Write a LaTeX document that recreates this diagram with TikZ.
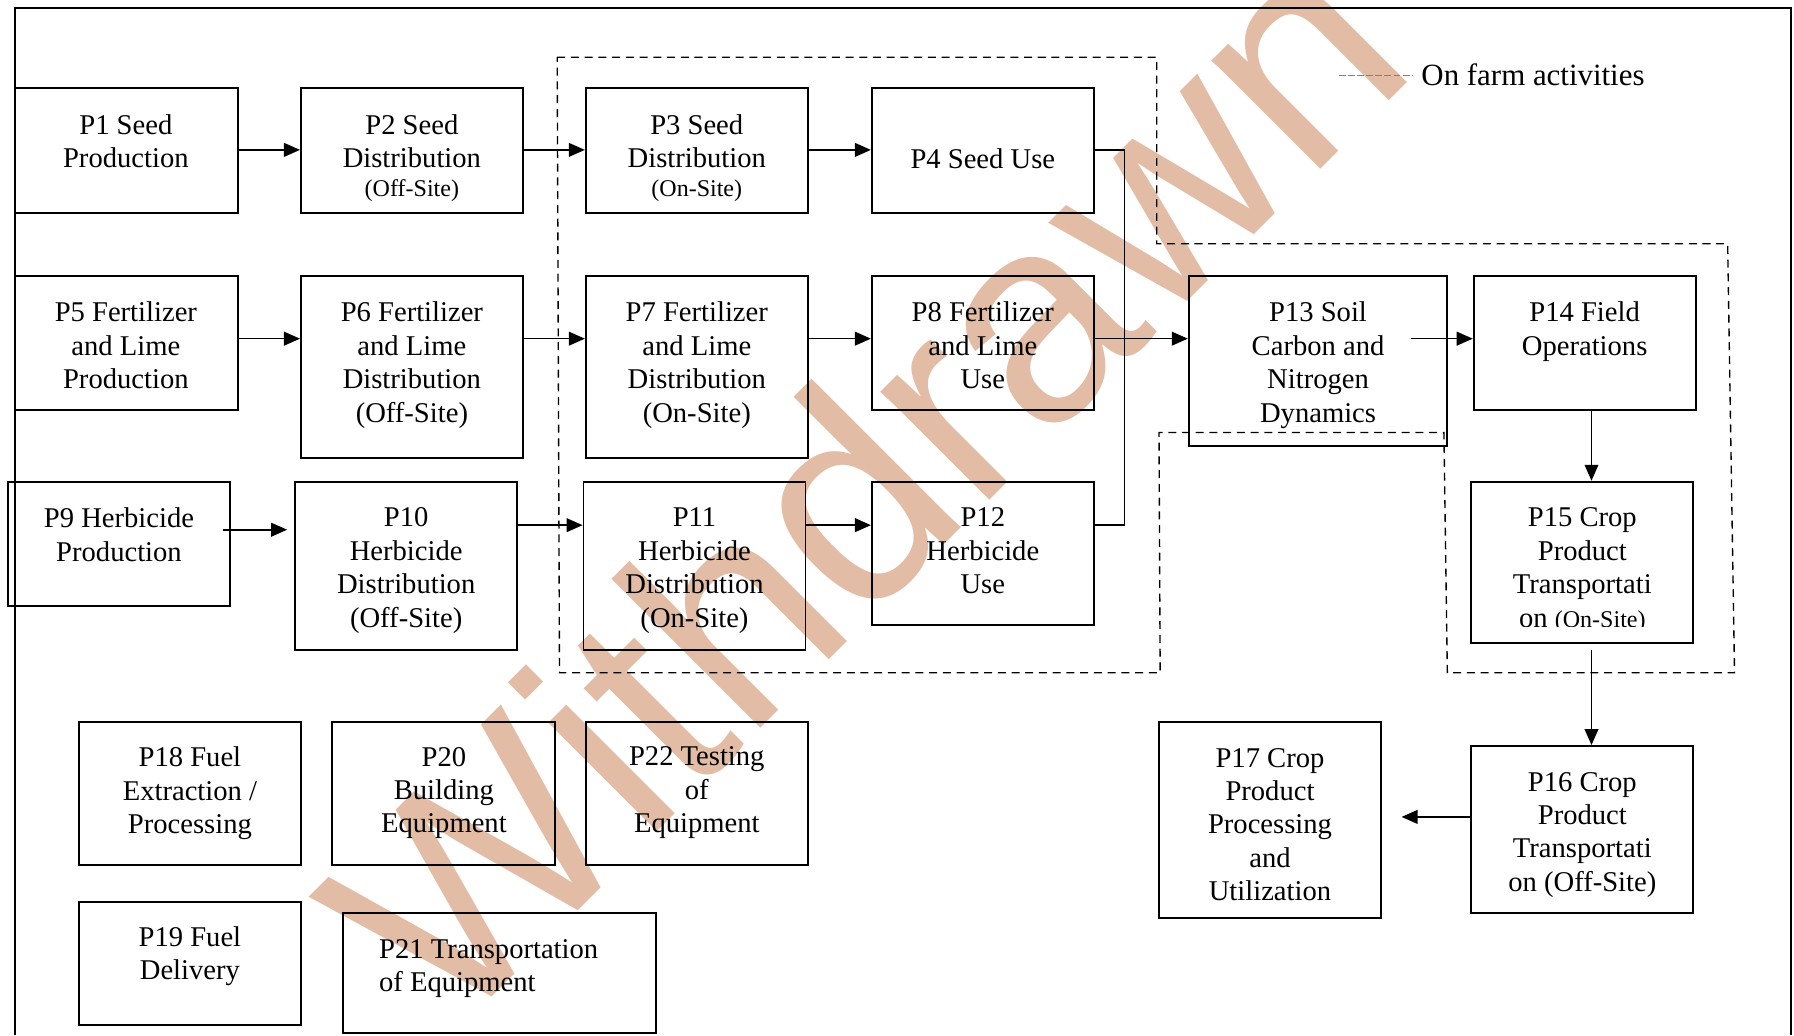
\documentclass[tikz,border=0pt]{standalone}
\usepackage{fontspec}
\setmainfont{Liberation Serif}
\newfontfamily\wmfont{Liberation Sans}
\usetikzlibrary{arrows.meta,fit}
\definecolor{wm}{RGB}{226,188,165}
\tikzset{
 boxst/.style={draw, line width=0.8pt, inner sep=0pt},
 txt/.style={align=center, inner sep=0pt, anchor=north, font=\fontsize{12.5}{14.6}\selectfont},
 arr/.style={line width=0.7pt, -{Triangle[length=7pt,width=6pt]}},
 conn/.style={line width=0.7pt},
 region/.style={dash pattern=on 3.5pt off 2.5pt, line width=0.6pt},
}
\newcommand{\sm}[1]{{\fontsize{10.5}{12}\selectfont #1}}
\begin{document}
\begin{tikzpicture}[x=0.5pt,y=-0.5pt]
\useasboundingbox (0,0) rectangle (1568,905);
% watermark
\node[rotate=45, anchor=base west, text=wm, inner sep=0pt, font=\wmfont\fontsize{127}{127}\selectfont] (wmark) at (393,909) {Withdrawn};
% frame
\draw[line width=0.8pt] (13,905) -- (13,7) -- (1565,7) -- (1565,905);
% dashed on-farm region
\draw[region] (487,50) -- (1011,50) -- (1011,213) -- (1510,213) -- (1516,588) -- (1265,588) -- (1262,378) -- (1013,378) -- (1014,588) -- (489,588) -- cycle;
% legend
\coordinate (l1) at (1170,66);
\coordinate (l2) at (1235,66);
\draw[gray, dash pattern=on 3pt off 1pt, line width=0.7pt] (l1) -- (l2);
\node[anchor=west, inner sep=0pt, font=\fontsize{13.5}{15}\selectfont] (leg) at (1242,65) {On farm activities};
% boxes
\node[boxst, fit={(13,77) (208,186)}] (P1) {};
\node[boxst, fit={(263,77) (457,186)}] (P2) {};
\node[boxst, fit={(512,77) (706,186)}] (P3) {};
\node[boxst, fit={(762,77) (956,186)}] (P4) {};
\node[boxst, fit={(13,241) (208,358)}] (P5) {};
\node[boxst, fit={(263,241) (457,400)}] (P6) {};
\node[boxst, fit={(512,241) (706,400)}] (P7) {};
\node[boxst, fit={(762,241) (956,358)}] (P8) {};
\node[boxst, fit={(1039,241) (1265,390)}] (P13) {};
\node[boxst, fit={(1288,241) (1482,358)}] (P14) {};
\node[boxst, fit={(7,421) (201,530)}] (P9) {};
\node[boxst, fit={(258,421) (452,568)}] (P10) {};
\node[boxst, fit={(510,421) (704,568)}] (P11) {};
\node[boxst, fit={(762,421) (956,546)}] (P12) {};
\node[boxst, fit={(1286,421) (1480,562)}] (P15) {};
\node[boxst, fit={(69,631) (263,756)}] (P18) {};
\node[boxst, fit={(290,631) (485,756)}] (P20) {};
\node[boxst, fit={(512,631) (706,756)}] (P22) {};
\node[boxst, fit={(1013,631) (1207,802)}] (P17) {};
\node[boxst, fit={(1286,652) (1480,798)}] (P16) {};
\node[boxst, fit={(69,788) (263,896)}] (P19) {};
\node[boxst, fit={(300,798) (573,903)}] (P21) {};
% texts
\node[txt] (T1) at (110,99.5) {P1 Seed\\Production};
\node[txt] (T2) at (360,99.5) {P2 Seed\\Distribution\\[-2pt]\sm{(Off-Site)}};
\node[txt] (T3) at (609,99.5) {P3 Seed\\Distribution\\[-2pt]\sm{(On-Site)}};
\node[txt] (T4) at (859,129.5) {P4 Seed Use};
\node[txt] (T5) at (110,263.5) {P5 Fertilizer\\and Lime\\Production};
\node[txt] (T6) at (360,263.5) {P6 Fertilizer\\and Lime\\Distribution\\(Off-Site)};
\node[txt] (T7) at (609,263.5) {P7 Fertilizer\\and Lime\\Distribution\\(On-Site)};
\node[txt] (T8) at (859,263.5) {P8 Fertilizer\\and Lime\\Use};
\node[txt] (T13) at (1152,263.5) {P13 Soil\\Carbon and\\Nitrogen\\Dynamics};
\node[txt] (T14) at (1385,263.5) {P14 Field\\Operations};
\node[txt] (T9) at (104,443.5) {P9 Herbicide\\Production};
\node[txt] (T10) at (355,443.5) {P10\\Herbicide\\Distribution\\(Off-Site)};
\node[txt] (T11) at (607,443.5) {P11\\Herbicide\\Distribution\\(On-Site)};
\node[txt] (T12) at (859,443.5) {P12\\Herbicide\\Use};
\begin{scope}
\clip (1286,421) rectangle (1480,548);
\node[txt] (T15) at (1383,443.5) {P15 Crop\\Product\\Transportati\\on \sm{(On-Site)}};
\end{scope}
\node[txt] (T18) at (166,652.5) {P18 Fuel\\Extraction /\\Processing};
\node[txt] (T20) at (388,652.5) {P20\\Building\\Equipment};
\node[txt] (T22) at (609,652.5) {P22 Testing\\of\\Equipment};
\node[txt] (T17) at (1110,653.5) {P17 Crop\\Product\\Processing\\and\\Utilization};
\node[txt] (T16) at (1383,674.5) {P16 Crop\\Product\\Transportati\\on (Off-Site)};
\node[txt] (T19) at (166,809.5) {P19 Fuel\\Delivery};
\node[txt, align=left, anchor=north west] (T21) at (331,820.5) {P21 Transportation\\of Equipment};
% connectors
\coordinate (ya) at (0,131);
\coordinate (yb) at (0,296);
\coordinate (yc) at (0,459);
\coordinate (yd) at (0,714);
\coordinate (xv) at (1391,0);
\draw[arr] (P1.east |- ya) -- (P2.west |- ya);
\draw[arr] (P2.east |- ya) -- (P3.west |- ya);
\draw[arr] (P3.east |- ya) -- (P4.west |- ya);
\draw[arr] (P5.east |- yb) -- (P6.west |- yb);
\draw[arr] (P6.east |- yb) -- (P7.west |- yb);
\draw[arr] (P7.east |- yb) -- (P8.west |- yb);
\draw[arr] (P8.east |- yb) -- (P13.west |- yb);
\coordinate (s13) at (1233,296);
\draw[arr] (s13) -- (P14.west |- yb);
\coordinate (s9) at (195,463);
\coordinate (e10) at (251,463);
\draw[arr] (s9) -- (e10);
\draw[arr] (P10.east |- yc) -- (P11.west |- yc);
\draw[arr] (P11.east |- yc) -- (P12.west |- yc);
\coordinate (j1) at (983,131);
\coordinate (j2) at (983,459);
\draw[conn] (P4.east |- ya) -- (j1) -- (j2) -- (P12.east |- yc);
\draw[arr] (P14.south -| xv) -- (P15.north -| xv);
\coordinate (s15) at (1391,568);
\draw[arr] (s15) -- (P16.north -| xv);
\coordinate (e17) at (1225,714);
\draw[arr] (P16.west |- yd) -- (e17);
\end{tikzpicture}
\end{document}
